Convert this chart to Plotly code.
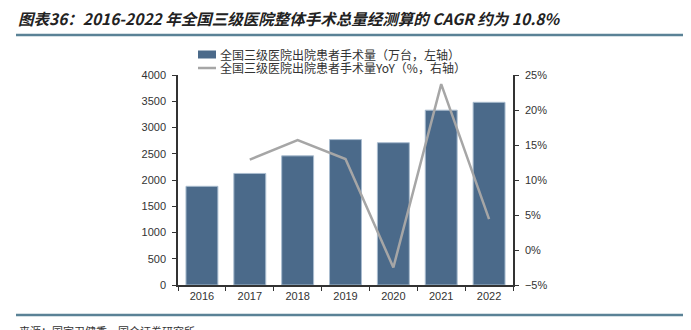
import plotly.graph_objects as go

years = ["2016", "2017", "2018", "2019", "2020", "2021", "2022"]
surgeries = [1880, 2125, 2460, 2770, 2710, 3330, 3480]  # 万台, left axis
yoy = [None, 12.9, 15.7, 13.0, -2.5, 23.7, 4.4]         # %, right axis

bar_name = "全国三级医院出院患者手术量（万台，左轴）"
line_name = "全国三级医院出院患者手术量YoY（%，右轴）"
title = "图表36：2016-2022 年全国三级医院整体手术总量经测算的 CAGR 约为 10.8%"
source = "来源：国家卫健委，国金证券研究所"

BAR_C = "#4B6A8A"
LINE_C = "#A6A6A6"
RULE_C = "#5A8296"
AX_C = "#333333"

fig = go.Figure()
fig.add_trace(go.Bar(x=years, y=surgeries, name=bar_name, marker=dict(color=BAR_C, line=dict(color="#A9BCCF", width=1)),
                     showlegend=False, yaxis="y"))
fig.add_trace(go.Scatter(x=years, y=yoy, name=line_name, mode="lines", line=dict(color=LINE_C, width=2.5),
                         showlegend=False, yaxis="y2"))

W, H = 691, 330
L, R, T, B = 178, 513, 75, 285

def px(x):
    return (x - L) / (R - L)

def py(y):
    return (B - y) / (B - T)

tick_font = dict(family="Liberation Sans, Arial", size=11, color="#333333")
cjk = "Noto Sans CJK SC"

fig.update_layout(
    width=W, height=H,
    margin=dict(l=L, r=W - R, t=T, b=H - B, pad=0),
    paper_bgcolor="white", plot_bgcolor="white",
    bargap=0.333,
    xaxis=dict(type="category", showline=True, linecolor=AX_C, linewidth=1.5, ticks="outside", tickson="boundaries",
               ticklen=4, tickcolor=AX_C, tickfont=tick_font, showgrid=False, zeroline=False),
    yaxis=dict(range=[0, 4000], dtick=500, showline=True, linecolor=AX_C, linewidth=1.5, ticks="outside", ticklen=4,
               tickcolor=AX_C, tickfont=tick_font, showgrid=False, zeroline=False, ticklabelstandoff=4),
    yaxis2=dict(range=[-5, 25], dtick=5, ticksuffix="%", overlaying="y", side="right", showline=True, linecolor=AX_C,
                linewidth=1.5, ticks="outside", ticklen=4, tickcolor=AX_C, tickfont=tick_font, showgrid=False,
                zeroline=False, ticklabelstandoff=4),
    showlegend=False,
)

shapes = [
    # title rule
    dict(type="line", xref="paper", yref="paper", x0=px(16), x1=px(683), y0=py(35), y1=py(35),
         line=dict(color=RULE_C, width=2.5)),
    # bottom rule
    dict(type="line", xref="paper", yref="paper", x0=px(16), x1=px(683), y0=py(315), y1=py(315),
         line=dict(color=RULE_C, width=2.5)),
    # legend swatches
    dict(type="rect", xref="paper", yref="paper", x0=px(198), x1=px(216), y0=py(58.5), y1=py(50.5),
         fillcolor=BAR_C, line=dict(width=0)),
    dict(type="line", xref="paper", yref="paper", x0=px(198), x1=px(216), y0=py(68), y1=py(68),
         line=dict(color=LINE_C, width=2.5)),
]
fig.update_layout(shapes=shapes)

annotations = [
    dict(text="<b><i>" + title + "</i></b>", xref="paper", yref="paper", x=px(16), y=py(18), xanchor="left",
         yanchor="middle", showarrow=False, font=dict(family=cjk, size=15.5, color="#222222")),
    dict(text=bar_name, xref="paper", yref="paper", x=px(218), y=py(54.5), xanchor="left", yanchor="middle",
         showarrow=False, font=dict(family=cjk, size=12, color="#333333")),
    dict(text=line_name, xref="paper", yref="paper", x=px(218), y=py(68), xanchor="left", yanchor="middle",
         showarrow=False, font=dict(family=cjk, size=12, color="#333333")),
    dict(text=source, xref="paper", yref="paper", x=px(17), y=py(331), xanchor="left", yanchor="middle",
         showarrow=False, font=dict(family=cjk, size=11, color="#333333")),
]
fig.update_layout(annotations=annotations)

fig.write_html("out.html")
